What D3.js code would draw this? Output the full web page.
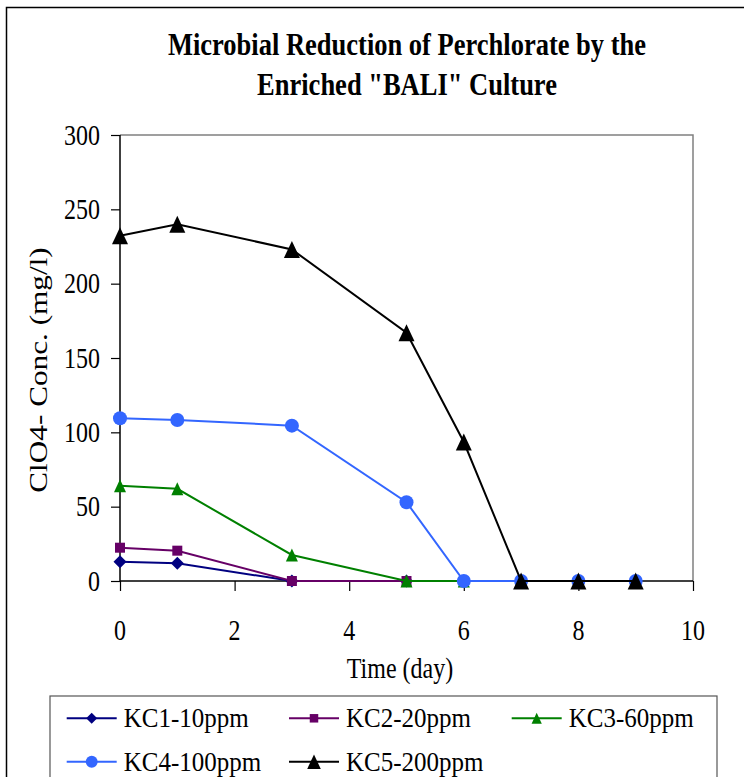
<!DOCTYPE html>
<html>
<head>
<meta charset="utf-8">
<script src="https://cdn.jsdelivr.net/npm/d3@7"></script>
<style>
  body { margin: 0; background: #fff; }
  text { font-family: "Liberation Serif", "Times New Roman", serif; fill: #000; }
</style>
</head>
<body>
<svg id="chart" width="744" height="777"></svg>
<script>
// data
const days = [0, 1, 3, 5, 6, 7, 8, 9];
const kc1 = [13, 12, 0, 0];
const kc2 = [22.4, 20.4, 0, 0];
const kc3 = [64, 62, 17.5, 0, 0];
const kc4 = [109.5, 108.3, 104.5, 53, 0, 0, 0, 0];
const kc5 = [232.3, 240, 223, 167, 93.5, 0, 0, 0];
const seriesNames = ["KC1-10ppm", "KC2-20ppm", "KC3-60ppm", "KC4-100ppm", "KC5-200ppm"];
const xTicks = [0, 2, 4, 6, 8, 10];
const yTicks = [0, 50, 100, 150, 200, 250, 300];

const colors = ["#000080", "#660066", "#008000", "#3366FF", "#000000"];
const shapes = ["diamond", "square", "triangle", "circle", "bigtriangle"];
const SY = 1.2; // picture is stretched vertically

const svg = d3.select("#chart");

function markerPath(shape, k) {
  k = k || 1;
  if (shape == "diamond") { let r = 6.5 * k; return `M0,${-r}L${r},0L0,${r}L${-r},0Z`; }
  if (shape == "square") { let r = 5 * k; return `M${-r},${-r}H${r}V${r}H${-r}Z`; }
  if (shape == "triangle") { let w = 6 * k, h = 6.5 * k; return `M0,${-h}L${w},${h}L${-w},${h}Z`; }
  if (shape == "bigtriangle") { let w = 8 * k, h = 8.5 * k; return `M0,${-h}L${w},${h}L${-w},${h}Z`; }
  let r = 7 * k;
  return `M${r},0A${r},${r} 0 1,1 ${-r},0A${r},${r} 0 1,1 ${r},0Z`;
}

function txt(x, y, s, size, anchor, weight) {
  return svg.append("text")
    .attr("transform", `translate(${x},${y}) scale(1,${SY})`)
    .attr("font-size", size)
    .attr("text-anchor", anchor || "start")
    .attr("font-weight", weight || "normal")
    .text(s);
}

// outer frame
svg.append("path").attr("d", "M6.5,800V7.5H800").attr("fill", "none").attr("stroke", "#000").attr("stroke-width", 1.5);

// title
txt(407, 55, "Microbial Reduction of Perchlorate by the", 26.5, "middle", "bold");
txt(407, 95, "Enriched \"BALI\" Culture", 26.5, "middle", "bold");

const x = d3.scaleLinear().domain([0, 10]).range([120, 693]);
const y = d3.scaleLinear().domain([0, 300]).range([581, 135]);

// plot border (top + right, gray)
svg.append("path")
  .attr("d", `M${x(0)},${y(300)}H${x(10)}V${y(0)}`)
  .attr("fill", "none").attr("stroke", "#808080").attr("stroke-width", 1.5);

// axes
const gx = svg.append("g").attr("transform", `translate(0,${y(0)})`)
  .call(d3.axisBottom(x).tickValues(xTicks).tickSize(10).tickFormat(""));
const gy = svg.append("g").attr("transform", `translate(${x(0)},0)`)
  .call(d3.axisLeft(y).tickValues(yTicks).tickSize(9).tickFormat(""));
[gx, gy].forEach(g => {
  g.select(".domain").attr("stroke", "#000").attr("stroke-width", 1.5);
  g.selectAll(".tick line").attr("stroke", "#000").attr("stroke-width", 1.2);
});
gx.select(".domain").attr("d", `M${x(0)},0H${x(10)}`);
gy.select(".domain").attr("d", `M0,${y(0)}V${y(300)}`);

xTicks.forEach(t => txt(x(t), 640, t, 24, "middle"));
yTicks.forEach(t => txt(100, y(t) + 9.5, t, 24, "end"));

// axis titles
txt(400, 678, "Time (day)", 24, "middle");
svg.append("text")
  .attr("transform", `translate(47,370) rotate(-90) scale(1.25,1)`)
  .attr("font-size", 25).attr("text-anchor", "middle")
  .text("ClO4- Conc. (mg/l)");

// series
const allSeries = [kc1, kc2, kc3, kc4, kc5];
const line = d3.line().x(d => x(d[0])).y(d => y(d[1]));
allSeries.forEach((vals, i) => {
  let pts = vals.map((v, j) => [days[j], v]);
  svg.append("path").datum(pts).attr("d", line)
    .attr("fill", "none").attr("stroke", colors[i]).attr("stroke-width", 2);
  svg.selectAll(null).data(pts).enter().append("path")
    .attr("transform", d => `translate(${x(d[0])},${y(d[1])})`)
    .attr("d", markerPath(shapes[i]))
    .attr("fill", colors[i]);
});

// legend
svg.append("rect").attr("x", 50).attr("y", 696).attr("width", 667).attr("height", 120)
  .attr("fill", "#fff").attr("stroke", "#555").attr("stroke-width", 1.2);
const colX = [66.7, 289, 511.7];
const rowY = [718.3, 761.7];
seriesNames.forEach((name, i) => {
  let lx = colX[i % 3], ly = rowY[Math.floor(i / 3)];
  svg.append("line").attr("x1", lx).attr("x2", lx + 50).attr("y1", ly).attr("y2", ly)
    .attr("stroke", colors[i]).attr("stroke-width", 2);
  svg.append("path").attr("transform", `translate(${lx + 25},${ly})`)
    .attr("d", markerPath(shapes[i], 0.85)).attr("fill", colors[i]);
  svg.append("text")
    .attr("transform", `translate(${lx + 57},${ly + 9}) scale(1,1.1)`)
    .attr("font-size", 25).text(name);
});
</script>
</body>
</html>
